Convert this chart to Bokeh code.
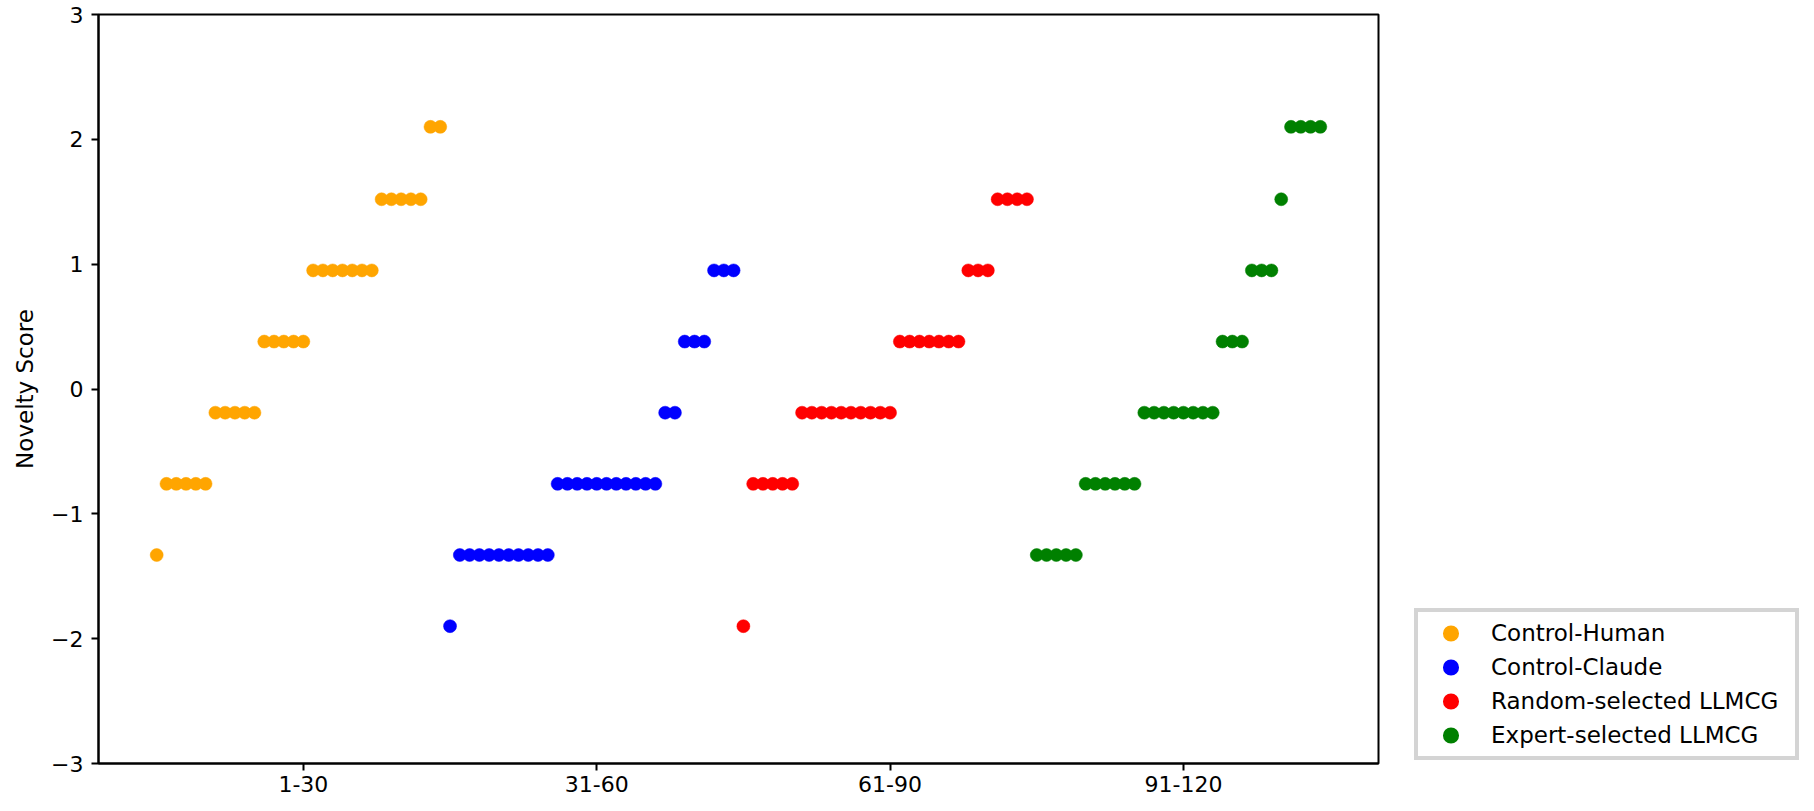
from bokeh.plotting import figure
from bokeh.layouts import row
from bokeh.models import Legend, LegendItem, FixedTicker, Range1d
from bokeh.embed import file_html
from bokeh.resources import INLINE

# ---- data ----
group_names = ["Control-Human", "Control-Claude", "Random-selected LLMCG", "Expert-selected LLMCG"]
group_colors = ["orange", "blue", "red", "green"]

human_scores = [-1.33,
                -0.76, -0.76, -0.76, -0.76, -0.76,
                -0.19, -0.19, -0.19, -0.19, -0.19,
                0.38, 0.38, 0.38, 0.38, 0.38,
                0.95, 0.95, 0.95, 0.95, 0.95, 0.95, 0.95,
                1.52, 1.52, 1.52, 1.52, 1.52,
                2.10, 2.10]
claude_scores = [-1.90,
                 -1.33, -1.33, -1.33, -1.33, -1.33, -1.33, -1.33, -1.33, -1.33, -1.33,
                 -0.76, -0.76, -0.76, -0.76, -0.76, -0.76, -0.76, -0.76, -0.76, -0.76, -0.76,
                 -0.19, -0.19,
                 0.38, 0.38, 0.38,
                 0.95, 0.95, 0.95]
random_scores = [-1.90,
                 -0.76, -0.76, -0.76, -0.76, -0.76,
                 -0.19, -0.19, -0.19, -0.19, -0.19, -0.19, -0.19, -0.19, -0.19, -0.19,
                 0.38, 0.38, 0.38, 0.38, 0.38, 0.38, 0.38,
                 0.95, 0.95, 0.95,
                 1.52, 1.52, 1.52, 1.52]
expert_scores = [-1.33, -1.33, -1.33, -1.33, -1.33,
                 -0.76, -0.76, -0.76, -0.76, -0.76, -0.76,
                 -0.19, -0.19, -0.19, -0.19, -0.19, -0.19, -0.19, -0.19,
                 0.38, 0.38, 0.38,
                 0.95, 0.95, 0.95,
                 1.52,
                 2.10, 2.10, 2.10, 2.10]
all_scores = [human_scores, claude_scores, random_scores, expert_scores]

x_tick_positions = [15, 45, 75, 105]
x_tick_labels = ["1-30", "31-60", "61-90", "91-120"]
y_ticks = [-3, -2, -1, 0, 1, 2, 3]

FONT = "DejaVu Sans"
H = 811

p = figure(width=1380, height=H,
           x_range=Range1d(-5.95, 124.95), y_range=Range1d(-3, 3),
           output_backend="svg", toolbar_location=None,
           min_border_left=98, min_border_right=2,
           min_border_top=14, min_border_bottom=48)

renderers = []
start = 0
for name, color, scores in zip(group_names, group_colors, all_scores):
    xs = list(range(start, start + len(scores)))
    r = p.scatter(xs, scores, size=13, fill_color=color, line_color=color, line_width=0.5)
    renderers.append(r)
    start += len(scores)

p.xgrid.visible = False
p.ygrid.visible = False
p.background_fill_color = "white"
p.border_fill_color = "white"
p.outline_line_color = "black"
p.outline_line_width = 2
p.outline_line_alpha = 1

p.xaxis.ticker = FixedTicker(ticks=x_tick_positions)
p.xaxis.major_label_overrides = {t: l for t, l in zip(x_tick_positions, x_tick_labels)}
p.yaxis.ticker = FixedTicker(ticks=y_ticks)
p.yaxis.major_label_overrides = {t: str(t).replace("-", "\u2212") for t in y_ticks}

for ax in (p.xaxis[0], p.yaxis[0]):
    ax.axis_line_color = "black"
    ax.axis_line_width = 2
    ax.major_tick_line_color = "black"
    ax.major_tick_line_width = 2
    ax.major_tick_out = 7
    ax.major_tick_in = 0
    ax.minor_tick_line_color = None
    ax.major_label_text_font = FONT
    ax.major_label_text_font_size = "22px"
    ax.major_label_text_color = "black"

p.xaxis.major_label_standoff = 5
p.yaxis.major_label_standoff = 8
p.yaxis.axis_label = "Novelty Score"
p.yaxis.axis_label_text_font = FONT
p.yaxis.axis_label_text_font_size = "23px"
p.yaxis.axis_label_text_font_style = "normal"
p.yaxis.axis_label_text_color = "black"
p.yaxis.axis_label_standoff = 10

# ---- legend panel (separate figure to the right of the axes) ----
p2 = figure(width=1814 - 1380, height=H,
            x_range=Range1d(0, 1), y_range=Range1d(0, 1),
            x_axis_type=None, y_axis_type=None,
            output_backend="svg", toolbar_location=None,
            min_border=0, outline_line_color=None)
p2.xgrid.visible = False
p2.ygrid.visible = False
p2.background_fill_color = "white"
p2.border_fill_color = "white"

# hidden helper glyphs that only supply the legend swatches
legend_renderers = [p2.scatter([0.5], [0.5], size=13, fill_color=c, line_color=c,
                               line_width=2.5, visible=False) for c in group_colors]

legend = Legend(
    items=[LegendItem(label=n, renderers=[r]) for n, r in zip(group_names, legend_renderers)],
    location=(34, 3), orientation="vertical", margin=0,
    padding=4, spacing=0,
    glyph_width=57, glyph_height=34,
    label_standoff=12, label_width=300, label_height=34,
    label_text_font=FONT, label_text_font_size="23px", label_text_color="black",
    border_line_color="#d4d4d4", border_line_width=4, border_line_alpha=1,
    background_fill_color="white", background_fill_alpha=1,
)
p2.add_layout(legend)

layout = row(p, p2, spacing=0)
open("out.html", "w").write(file_html(layout, INLINE))
